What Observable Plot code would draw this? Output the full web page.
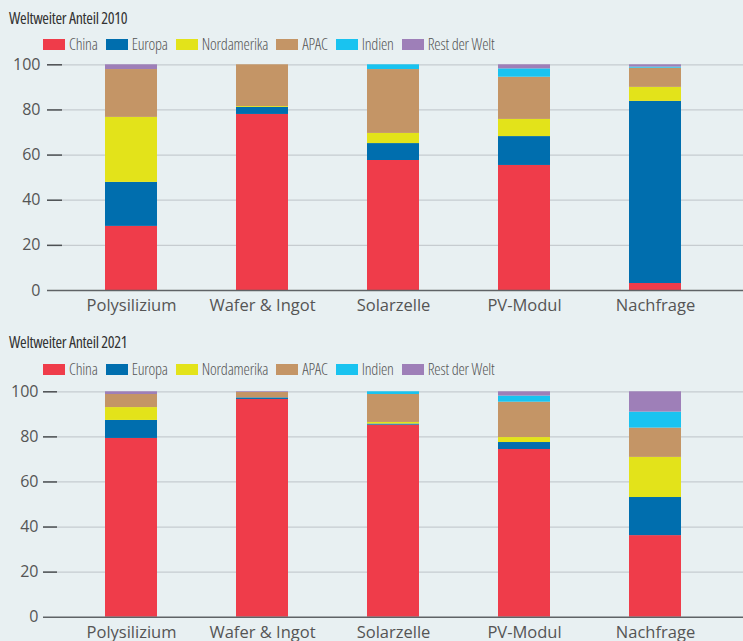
<!DOCTYPE html>
<html><head><meta charset="utf-8">
<script src="https://cdn.jsdelivr.net/npm/d3@7"></script>
<script src="https://cdn.jsdelivr.net/npm/@observablehq/plot@0.6"></script>
<style>
body{margin:0;background:#e8f0f2;width:743px;height:641px;overflow:hidden;position:relative;font-family:"Open Sans",sans-serif}
.title{position:absolute;left:9px;font-family:"Open Sans",sans-serif;font-stretch:75%;font-weight:380;font-size:16px;letter-spacing:-0.3px;color:#333;line-height:1;white-space:nowrap}
.legend{position:absolute;left:43px;display:flex;align-items:center;font-family:"Open Sans",sans-serif;font-stretch:75%;font-weight:360;font-size:16px;letter-spacing:-0.2px;color:#555;line-height:1;white-space:nowrap}
.legend .item{display:flex;align-items:center;margin-right:8px}
.legend .sw{width:22px;height:11px;margin-right:4px}
.chart{position:absolute;left:0}
</style></head>
<body>
<script>
const categories = ["Polysilizium", "Wafer & Ingot", "Solarzelle", "PV-Modul", "Nachfrage"];
const regions = ["China", "Europa", "Nordamerika", "APAC", "Indien", "Rest der Welt"];
const regionColors = ["#ef3c4a", "#006eae", "#e3e31a", "#c49566", "#19c3f0", "#9e7fb8"];
const yTicks = [0, 20, 40, 60, 80, 100];

// Weltweiter Anteil 2010 (%), one array per region, in category order
const china2010 = [28.4, 78.0, 57.6, 55.4, 3.1];
const europa2010 = [19.5, 3.1, 7.5, 12.8, 80.7];
const nordamerika2010 = [28.8, 0.4, 4.5, 7.6, 6.2];
const apac2010 = [21.2, 18.5, 28.3, 18.7, 8.5];
const indien2010 = [0, 0, 2.1, 3.7, 0.5];
const rest2010 = [2.1, 0, 0, 1.8, 1.0];

// Weltweiter Anteil 2021 (%)
const china2021 = [79.3, 96.6, 85.2, 74.4, 36.2];
const europa2021 = [8.0, 0.7, 0.5, 3.1, 16.9];
const nordamerika2021 = [5.7, 0, 0.7, 2.2, 17.8];
const apac2021 = [5.8, 2.4, 12.4, 15.7, 13.0];
const indien2021 = [0, 0, 1.2, 2.7, 7.1];
const rest2021 = [1.2, 0.3, 0, 1.9, 9.0];

function toRows(seriesList) {
  const rows = [];
  categories.forEach((c, i) => {
    regions.forEach((r, j) => rows.push({category: c, region: r, value: seriesList[j][i]}));
  });
  return rows;
}

function addBlock(opts) {
  const t = document.createElement("div");
  t.className = "title";
  t.style.top = opts.titleTop + "px";
  t.textContent = opts.title;
  document.body.appendChild(t);

  const lg = document.createElement("div");
  lg.className = "legend";
  lg.style.top = opts.legendTop + "px";
  regions.forEach((r, i) => {
    const it = document.createElement("div");
    it.className = "item";
    const sw = document.createElement("div");
    sw.className = "sw";
    sw.style.background = regionColors[i];
    const tx = document.createElement("span");
    tx.textContent = r;
    it.appendChild(sw); it.appendChild(tx);
    lg.appendChild(it);
  });
  document.body.appendChild(lg);

  const W = 743;
  const plot = Plot.plot({
    width: W,
    height: opts.height,
    marginTop: opts.marginTop,
    marginBottom: opts.marginBottom,
    marginLeft: opts.marginLeft,
    marginRight: 0,
    style: {background: "transparent", fontFamily: "'Open Sans', sans-serif", overflow: "visible"},
    x: {domain: categories, range: [47, 739], paddingInner: 0.6, paddingOuter: 0.43, label: null},
    y: {domain: [0, 100], label: null},
    color: {domain: regions, range: regionColors},
    marks: [
      Plot.ruleY(yTicks.filter(d => d > 0), {stroke: "#c6ccd0", strokeWidth: 1.2}),
      Plot.barY(opts.rows, {x: "category", y: "value", fill: "region"}),
      Plot.ruleY([0], {stroke: "#5f6366", strokeWidth: 1.6}),
      Plot.ruleY(yTicks.filter(d => d > 0), {stroke: "#4d5154", strokeWidth: 1.5, insetRight: W - opts.marginLeft - opts.tickLen}),
      Plot.axisY(yTicks, {tickSize: 0, tickPadding: opts.yPad, fontSize: 16, fill: "#555", label: null}),
      Plot.axisX({tickSize: 0, tickPadding: opts.xPad, fontSize: 16.5, fill: "#555", label: null})
    ]
  });
  plot.classList.add("chart");
  plot.style.top = opts.svgTop + "px";
  document.body.appendChild(plot);
}

addBlock({
  title: "Weltweiter Anteil 2010", titleTop: 10, legendTop: 36,
  rows: toRows([china2010, europa2010, nordamerika2010, apac2010, indien2010, rest2010]),
  svgTop: 55, height: 270, marginTop: 9.3, marginBottom: 35, marginLeft: 47, tickLen: 15, yPad: 7, xPad: 8.5
});
addBlock({
  title: "Weltweiter Anteil 2021", titleTop: 334, legendTop: 361,
  rows: toRows([china2021, europa2021, nordamerika2021, apac2021, indien2021, rest2021]),
  svgTop: 380, height: 261, marginTop: 11.3, marginBottom: 24.3, marginLeft: 43, tickLen: 14, yPad: 5, xPad: 9
});
</script>
</body></html>
